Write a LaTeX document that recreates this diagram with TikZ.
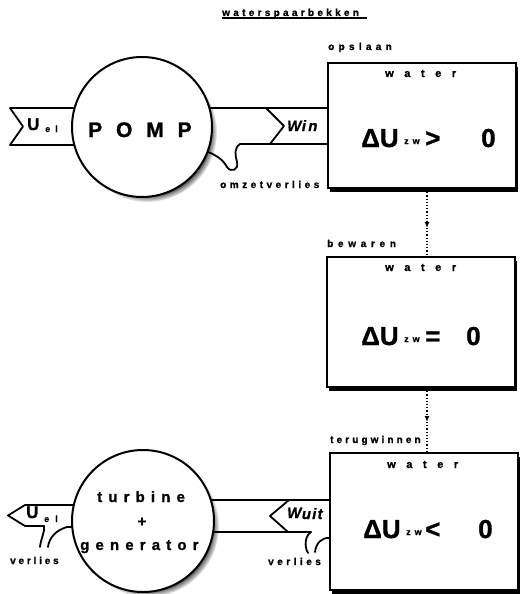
\documentclass[tikz,border=0pt]{standalone}
\usepackage{fontspec}
\setmainfont{Liberation Sans}
\newfontfamily\hv[FakeBold=1.2]{Liberation Sans Bold}
\newfontfamily\hvit[FakeBold=0.8]{Liberation Sans Bold Italic}
\usetikzlibrary{arrows.meta,shadows}
\newcommand\lsp[2]{{\addfontfeature{LetterSpace=#1}#2}}
\tikzset{
  box/.style={draw, line width=2pt, fill=white, inner sep=0pt,
    drop shadow={shadow xshift=1.5pt, shadow yshift=-4pt, fill=black, opacity=1}},
  wheel/.style={circle, draw, line width=2pt, fill=white, inner sep=0pt, minimum size=140pt,
    circular drop shadow={shadow xshift=5pt, shadow yshift=-5pt, shadow scale=1, fill=black, opacity=1}},
  band/.style={line width=1.8pt, line join=round, line cap=round},
  lbl/.style={inner sep=0pt, anchor=base west, font=\hv\fontsize{10}{10}\selectfont},
  big/.style={inner sep=0pt, anchor=base west, font=\hv\fontsize{26}{26}\selectfont},
  sub/.style={inner sep=0pt, anchor=base west, font=\hv\fontsize{9}{9}\selectfont},
  flow/.style={dotted, line width=1.2pt},
  flowtip/.style={flow, -{Latex[length=6pt,width=5pt]}},
}
\begin{document}
\begin{tikzpicture}[x=1pt,y=-1pt]
\useasboundingbox (0,0) rectangle (520,594);
\fill[white] (0,0) rectangle (520,594);
% title
\node[lbl] (title) at (222,16) {\lsp{33}{waterspaarbekken}};
\draw[line width=1.8pt] (title.base west) ++(0,1.8) -- ++(145,0);
% ---------- top: pump ----------
\draw[band] (142,108) -- (10,108) -- (23,126.5) -- (10,145) -- (142,145);
\draw[band] (142,108) -- (328,108);
\draw[band] (266,108) -- (284,126) -- (270,144);
\draw[band] (328,144) -- (240,144) .. controls (234,148) and (235,155) .. (237,162)
  .. controls (239,170) and (231,173) .. (227,167) .. controls (223,160) and (218,156) .. (206,151);
\node[wheel] (pomp) at (142,127) {};
\node[inner sep=0pt, anchor=base west, font=\hv\fontsize{21}{21}\selectfont] (pomptxt) at (88,137) {\lsp{66}{POMP}};
\node[inner sep=0pt, anchor=base west, font=\hv\fontsize{17}{17}\selectfont] (uel1) at (27,130) {U};
\node[sub] (uel1s) at (45,132) {e\hspace{5pt}l};
\node[inner sep=0pt, anchor=base west, font=\hvit\fontsize{15}{15}\selectfont] (win) at (287,131) {W\kern0.5pt\lsp{15}{in}};
\node[lbl] (omz) at (220,188) {\lsp{35}{omzetverlies}};
% ---------- boxes ----------
\node[box, minimum width=188pt, minimum height=125pt] (b1) at (422,125.5) {};
\node[box, minimum width=188pt, minimum height=130pt] (b2) at (421,322) {};
\node[box, minimum width=188pt, minimum height=137pt] (b3) at (424,521.5) {};
\node[lbl] (opsl) at (328,50) {\lsp{43}{opslaan}};
\node[lbl] (bew) at (327,247) {\lsp{47}{bewaren}};
\node[lbl] (terug) at (330,443) {\lsp{31}{terugwinnen}};
\node[lbl, font=\hv\fontsize{11}{11}\selectfont] (w1) at (385,77) {\lsp{96}{water}};
\node[lbl, font=\hv\fontsize{11}{11}\selectfont] (w2) at (385,271) {\lsp{96}{water}};
\node[lbl, font=\hv\fontsize{11}{11}\selectfont] (w3) at (387,468) {\lsp{96}{water}};
% Delta U expressions
\node[big] (d1a) at (361,147) {ΔU};
\node[sub] (d1b) at (404,144) {z\hspace{4pt}w};
\node[big] (d1c) at (425,147) {>};
\node[big] (d1d) at (481,147) {0};
\node[big] (d2a) at (361,345) {ΔU};
\node[sub] (d2b) at (404,342) {z\hspace{4pt}w};
\node[big] (d2c) at (425,345) {=};
\node[big] (d2d) at (466,345) {0};
\node[big] (d3a) at (363,538) {ΔU};
\node[sub] (d3b) at (406,535) {z\hspace{4pt}w};
\node[big] (d3c) at (425,538) {<};
\node[big] (d3d) at (478,538) {0};
% dotted flows between boxes
\coordinate (m1) at (427,228);
\coordinate (m2) at (427,422);
\draw[flowtip] (b1.south -| m1) -- (m1);
\draw[flow] (m1) -- (b2.north -| m1);
\draw[flowtip] (b2.south -| m1) -- (m2);
\draw[flow] (m2) -- (b3.north -| m2);
% ---------- bottom: turbine ----------
\draw[band] (143,505) -- (25,505) -- (8,515.5) -- (25,526) -- (44,526)
  .. controls (45,532) and (41,538) .. (40,547);
\draw[band] (48,547) .. controls (49,538) and (56,530) .. (67,527) -- (143,527);
\draw[band] (143,500) -- (330,500);
\draw[band] (143,532) -- (311,532);
\draw[band] (289,500) -- (270,516) -- (288,532);
\draw[band] (311,532) .. controls (305,536) and (304,546) .. (308,553);
\draw[band] (330,538) .. controls (322,537) and (316,543) .. (315,552);
\node[wheel, minimum size=142pt] (turb) at (143,521) {};
\node[inner sep=0pt, anchor=base west, font=\hv\fontsize{15}{15}\selectfont] (turbt) at (97,502) {\lsp{41}{turbine}};
\node[inner sep=0pt, font=\hv\fontsize{15}{15}\selectfont] (plus) at (142,522) {+};
\node[inner sep=0pt, anchor=base west, font=\hv\fontsize{15}{15}\selectfont] (gen) at (80,550) {\lsp{41}{generator}};
\node[inner sep=0pt, anchor=base west, font=\hv\fontsize{17}{17}\selectfont] (uel2) at (26,518) {U};
\node[sub] (uel2s) at (44,522) {e\hspace{6pt}l};
\node[inner sep=0pt, anchor=base west, font=\hvit\fontsize{15}{15}\selectfont] (wuit) at (287,518) {W\kern0.5pt\raisebox{-1pt}{\lsp{8}{uit}}};
\node[lbl] (verl1) at (10,564) {\lsp{28}{verlies}};
\node[lbl] (verl2) at (268,565) {\lsp{35}{verlies}};
\end{tikzpicture}
\end{document}
